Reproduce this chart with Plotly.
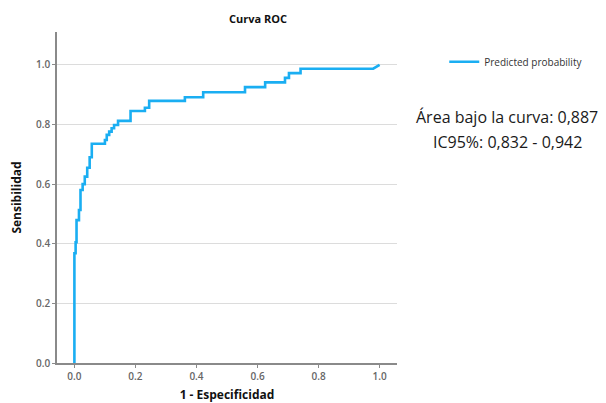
import plotly.graph_objects as go

# ROC curve vertices (1 - specificity, sensitivity)
fpr = [0.000, 0.000, 0.004, 0.004, 0.007, 0.007, 0.015, 0.015, 0.020, 0.020,
       0.027, 0.027, 0.034, 0.034, 0.042, 0.042, 0.050, 0.050, 0.057, 0.057,
       0.100, 0.100, 0.106, 0.106, 0.114, 0.114, 0.122, 0.122, 0.130, 0.130,
       0.143, 0.143, 0.184, 0.184, 0.231, 0.231, 0.245, 0.245, 0.362, 0.362,
       0.422, 0.422, 0.559, 0.559, 0.625, 0.625, 0.690, 0.690, 0.703, 0.703,
       0.741, 0.741, 0.979, 1.000]
tpr = [0.000, 0.368, 0.368, 0.405, 0.405, 0.479, 0.479, 0.513, 0.513, 0.580,
       0.580, 0.600, 0.600, 0.625, 0.625, 0.655, 0.655, 0.690, 0.690, 0.735,
       0.735, 0.748, 0.748, 0.765, 0.765, 0.776, 0.776, 0.787, 0.787, 0.798,
       0.798, 0.812, 0.812, 0.845, 0.845, 0.856, 0.856, 0.879, 0.879, 0.891,
       0.891, 0.908, 0.908, 0.925, 0.925, 0.941, 0.941, 0.956, 0.956, 0.972,
       0.972, 0.987, 0.987, 1.000]

series_name = "Predicted probability"
tick_vals = [0.0, 0.2, 0.4, 0.6, 0.8, 1.0]
tick_text = ["0.0", "0.2", "0.4", "0.6", "0.8", "1.0"]
auc_line1 = "Área bajo la curva: 0,887"
auc_line2 = "IC95%: 0,832 - 0,942"

FONT = "Open Sans, Liberation Sans, sans-serif"
BLUE = "#1AAEF2"

fig = go.Figure()
fig.add_trace(go.Scatter(x=fpr, y=tpr, mode="lines", name=series_name,
                         line=dict(color=BLUE, width=2.6), showlegend=True))

axis_common = dict(
    tickvals=tick_vals, ticktext=tick_text,
    tickfont=dict(family=FONT, size=10, color="#666666", weight=600),
    showline=True, linecolor="#8a8a8a", linewidth=1.5,
    ticks="outside", ticklen=3, tickcolor="#8a8a8a",
    zeroline=False, mirror=False, automargin=False,
)

# the page body adds an 8px offset, so the figure is 598x395
fig.update_layout(
    width=598, height=395,
    margin=dict(l=49, r=209, t=24, b=40, autoexpand=False),
    paper_bgcolor="white", plot_bgcolor="white",
    font=dict(family=FONT, color="#222222"),
    xaxis=dict(range=[-0.057, 1.057], showgrid=False,
               title=dict(text="<b>1 - Especificidad</b>", standoff=10,
                          font=dict(family=FONT, size=12, color="#111111")),
               **axis_common),
    yaxis=dict(range=[0, 1.11], showgrid=True, gridcolor="#dcdcdc", gridwidth=1,
               title=dict(text="<b>Sensibilidad</b>", standoff=14,
                          font=dict(family=FONT, size=12, color="#111111")),
               **axis_common),
    legend=dict(x=1.139, y=0.91, xanchor="left", yanchor="middle",
                bgcolor="rgba(0,0,0,0)", borderwidth=0,
                font=dict(family=FONT, size=10, color="#333333"),
                itemwidth=30),
    showlegend=True,
    annotations=[
        dict(text="<b>Curva ROC</b>", xref="paper", yref="paper",
             x=0.591, y=1.0, yshift=14, xanchor="center", yanchor="middle",
             showarrow=False,
             font=dict(family=FONT, size=11, color="#111111")),
        dict(text=auc_line1, xref="paper", yref="paper",
             x=1.3235, y=0.743, xanchor="center", yanchor="middle",
             showarrow=False,
             font=dict(family=FONT, size=16, color="#1a1a1a")),
        dict(text=auc_line2, xref="paper", yref="paper",
             x=1.326, y=0.668, xanchor="center", yanchor="middle",
             showarrow=False,
             font=dict(family=FONT, size=16, color="#1a1a1a")),
    ],
)

fig.write_html("out.html")
